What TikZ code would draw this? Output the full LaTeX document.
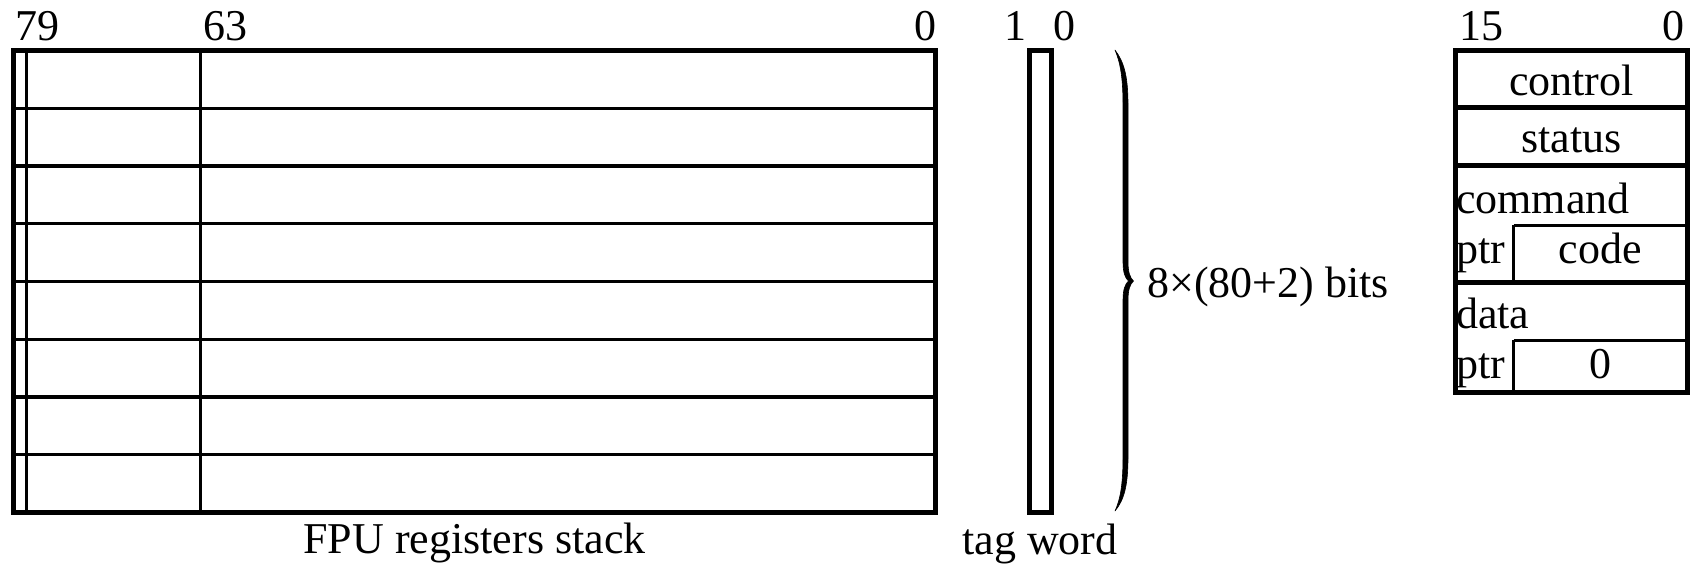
\documentclass[tikz,border=0pt]{standalone}
\usepackage{fontspec}
\setmainfont{Liberation Serif}
\begin{document}
\begin{tikzpicture}[x=1pt,y=-1pt,
  lbl/.style={inner sep=0pt,font=\fontsize{44}{50}\selectfont},
  heavy/.style={line width=5pt,line join=miter},
  rowline/.style={line width=3.2pt},
  bitline/.style={line width=2.5pt},
  subline/.style={line width=3pt},
  bracefill/.style={fill=black,draw=black,line width=0.6pt,line join=round}]
\useasboundingbox (0,0) rectangle (1693,566);
% ---- FPU register stack ----
\coordinate (mtl) at (13.5,50.5);
\coordinate (mbr) at (935.5,512.5);
\foreach \k in {1,...,7}{
  \draw[rowline] (13.5,{50.5+57.75*\k}) -- (935.5,{50.5+57.75*\k});
}
\draw[bitline] (26.5,50.5) -- (26.5,512.5);
\draw[bitline] (200.5,50.5) -- (200.5,512.5);
\draw[heavy] (mtl) rectangle (mbr);
\node[lbl,anchor=base west] (l79) at (15,40) {79};
\node[lbl,anchor=base west] (l63) at (203,40) {63};
\node[lbl,anchor=base east] (l0) at (937,40) {0};
\node[lbl,anchor=base] (fpu) at (474.5,553) {FPU registers stack};
% ---- tag word ----
\draw[heavy] (1029.5,50.5) rectangle (1051,512.5);
\node[lbl,anchor=base east] (t1) at (1027,40) {1};
\node[lbl,anchor=base west] (t0) at (1053,40) {0};
\node[lbl,anchor=base] (tag) at (1040,554) {tag word};
% ---- brace ----
\fill[bracefill] (1115,50)
  .. controls (1124,62) and (1128,76) .. (1128,105)
  -- (1128,262)
  .. controls (1128,272) and (1130,278) .. (1133.5,281)
  .. controls (1130,284) and (1128,290) .. (1128,300)
  -- (1128,457)
  .. controls (1128,486) and (1124,500) .. (1115,511)
  .. controls (1120,500) and (1123,486) .. (1123,457)
  -- (1123,300)
  .. controls (1123,290) and (1125,284) .. (1128.5,281)
  .. controls (1125,278) and (1123,272) .. (1123,262)
  -- (1123,105)
  .. controls (1123,76) and (1120,62) .. (1115,50) -- cycle;
\node[lbl,anchor=base west] (bits) at (1147,297) {8×(80+2) bits};
% ---- control registers ----
\draw[subline] (1513.5,225) -- (1687.5,225);
\draw[subline] (1513.5,225) -- (1513.5,282.5);
\draw[subline] (1513.5,340) -- (1687.5,340);
\draw[subline] (1513.5,340) -- (1513.5,392.5);
\draw[heavy] (1455.5,107.5) -- (1687.5,107.5);
\draw[heavy] (1455.5,165.5) -- (1687.5,165.5);
\draw[heavy] (1455.5,282.5) -- (1687.5,282.5);
\draw[heavy] (1455.5,50.5) rectangle (1687.5,392.5);
\node[lbl,anchor=base west] (r15) at (1459,40) {15};
\node[lbl,anchor=base east] (r0) at (1685,40) {0};
\node[lbl,anchor=base] (ctl) at (1571.5,95) {control};
\node[lbl,anchor=base] (sts) at (1571.5,152) {status};
\node[lbl,anchor=base west] (cmd) at (1456,213) {command};
\node[lbl,anchor=base west] (cptr) at (1456,263) {ptr};
\node[lbl,anchor=base] (code) at (1600.5,263) {code};
\node[lbl,anchor=base west] (dat) at (1456,328) {data};
\node[lbl,anchor=base west] (dptr) at (1456,378) {ptr};
\node[lbl,anchor=base] (dzero) at (1600.5,378) {0};
\end{tikzpicture}
\end{document}
